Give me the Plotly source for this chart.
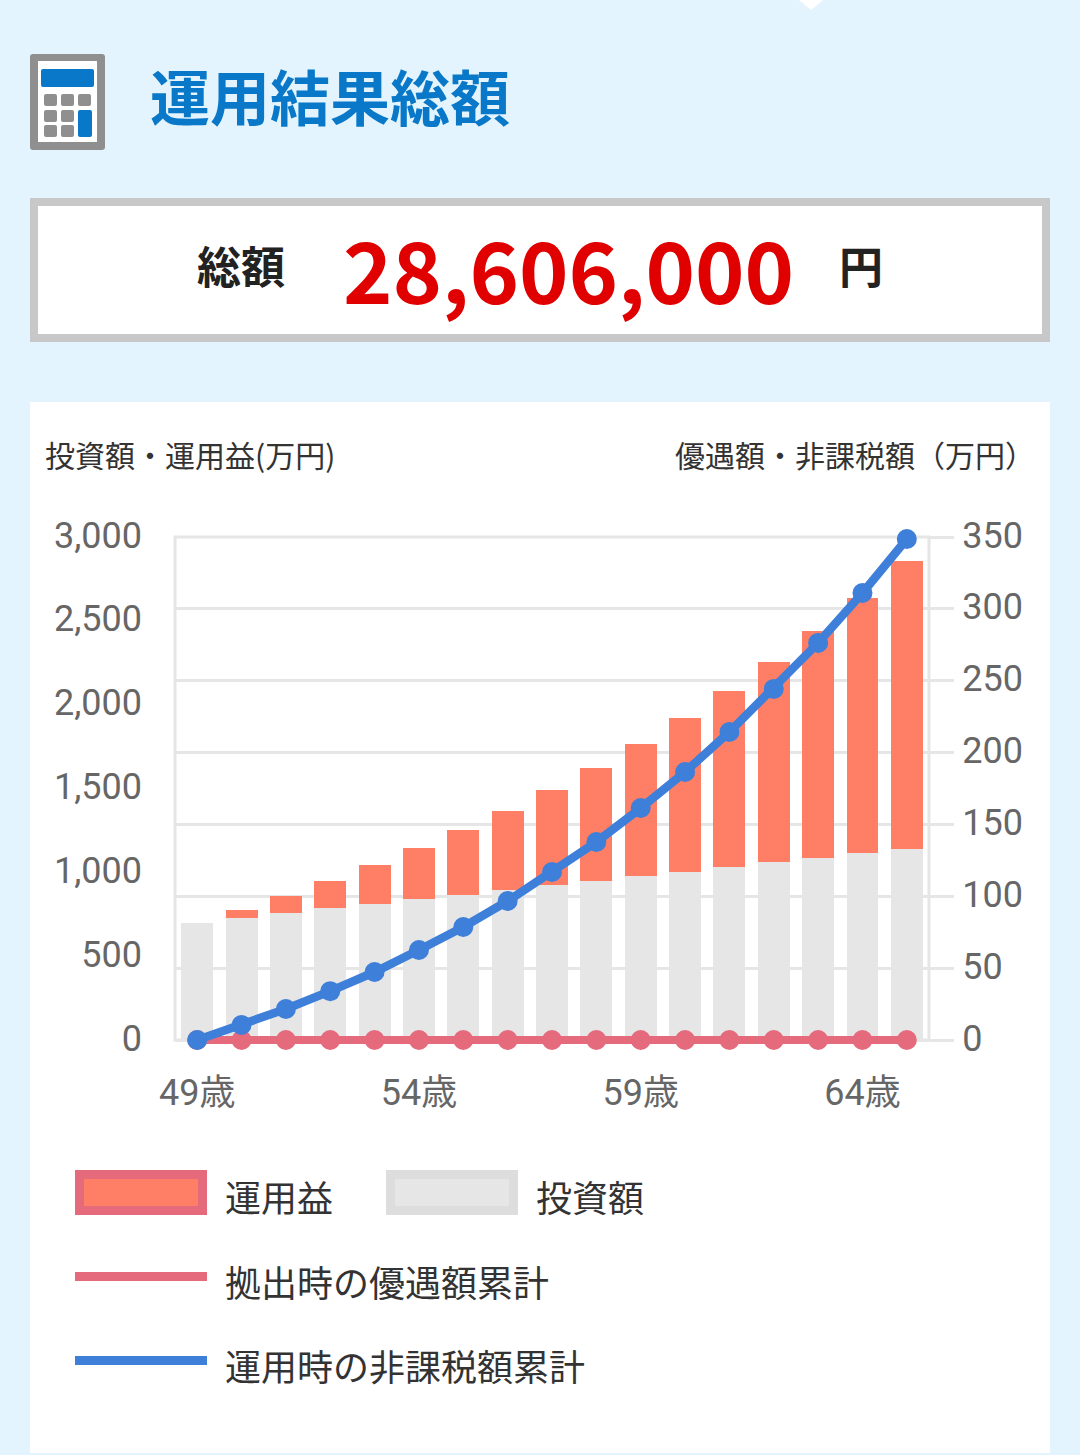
import plotly.graph_objects as go

ages = ["49歳","50歳","51歳","52歳","53歳","54歳","55歳","56歳","57歳","58歳","59歳","60歳","61歳","62歳","63歳","64歳","65歳"]
age_ticks = ["49歳","54歳","59歳","64歳"]
invest = [698,727,757,787,811,841,865,894,924,948,978,1002,1032,1061,1085,1115,1139]
gain = [0,48,102,161,233,304,387,472,567,674,787,918,1049,1193,1354,1521,1717]
deduction = [0]*17
tax_free = [0,10.4,21.6,34,47.3,62.6,78.6,96.7,116.9,137.8,161.4,186.5,214.3,244.3,276.3,311,348.6]
left_ticks = [0,500,1000,1500,2000,2500,3000]
right_ticks = [0,50,100,150,200,250,300,350]

W, H = 1080, 1455
CJK = "'Noto Sans CJK JP', sans-serif"
NUM = "Roboto, 'Noto Sans CJK JP', sans-serif"
GRID = "#E6E6E6"
PINK = "#E56A7C"
BLUE = "#3E7FD9"
CORAL = "#FF7F66"
LIGHT = "#E6E6E6"
ICON_BLUE = "#0A78C8"
ICON_GREY = "#8F8F8F"

# plot frame in pixels; the domain runs a little below the zero line so the lines at 0 are not clipped
TOP, ZERO, LEFT, RIGHT = 537, 1040, 175, 929
PAD = 8
Y_MAX, Y2_MAX = 3000, 350
y_min = -PAD * Y_MAX / (ZERO - TOP)
y2_min = -PAD * Y2_MAX / (ZERO - TOP)

def px(x): return x / W
def py(y): return 1 - y / H

def rect(x0, y0, x1, y1, fill, line=None, lw=0, layer="below"):
    return dict(type="rect", xref="paper", yref="paper", x0=px(x0), x1=px(x1), y0=py(y0), y1=py(y1),
                fillcolor=fill, line=dict(color=line or fill, width=lw), layer=layer)

def rrect(x0, y0, x1, y1, r, fill):
    p = (f"M {px(x0+r)} {py(y0)} L {px(x1-r)} {py(y0)} Q {px(x1)} {py(y0)} {px(x1)} {py(y0+r)} "
         f"L {px(x1)} {py(y1-r)} Q {px(x1)} {py(y1)} {px(x1-r)} {py(y1)} "
         f"L {px(x0+r)} {py(y1)} Q {px(x0)} {py(y1)} {px(x0)} {py(y1-r)} "
         f"L {px(x0)} {py(y0+r)} Q {px(x0)} {py(y0)} {px(x0+r)} {py(y0)} Z")
    return dict(type="path", xref="paper", yref="paper", layer="below", fillcolor=fill, line_width=0, path=p)

def text(x, y, s, size, color, family=CJK, anchor="left", weight=400):
    return dict(xref="paper", yref="paper", x=px(x), y=py(y), text=s, showarrow=False, xanchor=anchor, yanchor="middle",
                align=anchor, font=dict(family=family, size=size, color=color, weight=weight), borderpad=0, borderwidth=0)

fig = go.Figure()
fig.add_bar(x=ages, y=invest, name="投資額", marker=dict(color=LIGHT, line_width=0), yaxis="y", showlegend=False)
fig.add_bar(x=ages, y=gain, name="運用益", marker=dict(color=CORAL, line_width=0), yaxis="y", showlegend=False)
fig.add_scatter(x=ages, y=deduction, name="拠出時の優遇額累計", mode="lines+markers", yaxis="y2", cliponaxis=False,
                line=dict(color=PINK, width=8), marker=dict(color=PINK, size=20), showlegend=False)
fig.add_scatter(x=ages, y=tax_free, name="運用時の非課税額累計", mode="lines+markers", yaxis="y2", cliponaxis=False,
                line=dict(color=BLUE, width=8.5), marker=dict(color=BLUE, size=20), showlegend=False)

shapes = [
    dict(type="path", xref="paper", yref="paper", layer="below", fillcolor="white", line_width=0,
         path=f"M {px(799)} {py(0)} L {px(823)} {py(0)} L {px(811)} {py(10)} Z"),
    rect(30, 402, 1050, 1453, "white"),
    rect(34, 202, 1046, 338, "white", "#C8C8C8", 8),
    rrect(30, 54, 105, 150, 3, ICON_GREY),
    rect(38, 61, 97, 142, "white"),
    rrect(41, 69, 94, 87, 2, ICON_BLUE),
    rrect(78, 110, 92, 137, 2, ICON_BLUE),
    rect(LEFT, TOP, RIGHT, ZERO, "rgba(0,0,0,0)", GRID, 3),
]
for y0 in (94, 110, 125):
    for x0 in (44, 61, 78):
        if x0 == 78 and y0 > 94:
            continue
        shapes.append(rrect(x0, y0, x0 + 13, y0 + 12, 2, ICON_GREY))
shapes += [
    rect(79.5, 1174.5, 202.5, 1210.5, CORAL, PINK, 9),
    rect(390.5, 1174.5, 513.5, 1210.5, "#E6E6E6", "#DDDDDD", 9),
    rect(75, 1272, 207, 1281, PINK),
    rect(75, 1356, 207, 1365, BLUE),
]

annotations = [
    text(150, 95, "運用結果総額", 60, ICON_BLUE, weight=700),
    text(197, 265, "総額", 44, "#222222", weight=700),
    text(343, 267, "28,606,000", 84, "#E00000", weight=700),
    text(839, 265, "円", 44, "#222222", weight=700),
    text(45, 454, "投資額・運用益(万円)", 30, "#333333"),
    text(1035, 454, "優遇額・非課税額（万円）", 30, "#333333", anchor="right"),
    text(225, 1196, "運用益", 36, "#333333"),
    text(536, 1196, "投資額", 36, "#333333"),
    text(225, 1281, "拠出時の優遇額累計", 36, "#333333"),
    text(225, 1365, "運用時の非課税額累計", 36, "#333333"),
]

fig.update_layout(
    width=W, height=H, autosize=False, margin=dict(l=0, r=0, t=0, b=0, pad=0),
    paper_bgcolor="#E3F4FE", plot_bgcolor="rgba(0,0,0,0)",
    barmode="stack", bargap=0.28, showlegend=False, shapes=shapes, annotations=annotations,
    xaxis=dict(domain=[px(LEFT), px(RIGHT)], type="category", categoryorder="array", categoryarray=ages,
               range=[-0.5, 16.5], tickmode="array", tickvals=age_ticks, ticktext=age_ticks, ticks="",
               showgrid=False, zeroline=False, showline=False, automargin=False,
               tickfont=dict(family=NUM, size=36, color="#666666"), ticklabelstandoff=20),
    yaxis=dict(domain=[py(ZERO + PAD), py(TOP)], range=[y_min, Y_MAX], tickmode="array", tickvals=left_ticks,
               tickformat=",d", showgrid=False, zeroline=False, showline=False,
               ticks="", automargin=False, ticklabelstandoff=32, ticklabelshift=-2,
               tickfont=dict(family=NUM, size=36, color="#666666")),
    yaxis2=dict(domain=[py(ZERO + PAD), py(TOP)], overlaying="y", side="right", range=[y2_min, Y2_MAX], tickmode="array",
                tickvals=right_ticks, showgrid=True, gridcolor=GRID, gridwidth=3, zeroline=False,
                showline=False, ticks="outside", ticklen=24, tickwidth=3, tickcolor=GRID,
                automargin=False, ticklabelstandoff=1, ticklabelshift=-2,
                tickfont=dict(family=NUM, size=36, color="#666666")),
)

fig.write_html("out.html", config=dict(displayModeBar=False),
               post_script="document.body.style.margin='0';document.documentElement.style.overflow='hidden';")
